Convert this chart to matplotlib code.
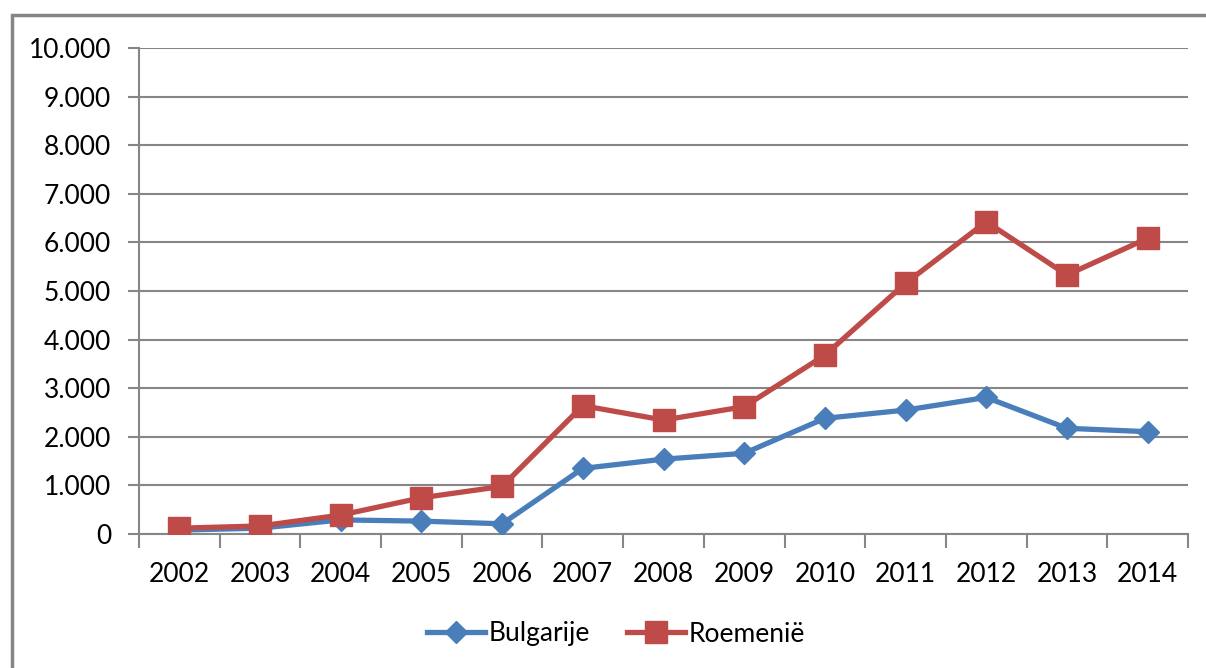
import matplotlib
matplotlib.use("Agg")
import matplotlib.pyplot as plt
import matplotlib.patches as patches
from matplotlib.ticker import FuncFormatter, FixedLocator

# === Data ===
years = ["2002", "2003", "2004", "2005", "2006", "2007", "2008",
         "2009", "2010", "2011", "2012", "2013", "2014"]
bulgarije = [80, 120, 290, 265, 210, 1350, 1540, 1660, 2380, 2550, 2810, 2175, 2105]
roemenie = [120, 165, 390, 745, 980, 2640, 2345, 2620, 3680, 5160, 6425, 5330, 6085]

GRID = "#868686"
BLUE = "#4A7EBB"
RED = "#BE4B48"

plt.rcParams["font.family"] = ["Lato", "DejaVu Sans"]

fig = plt.figure(figsize=(12.06, 6.68), dpi=100)
ax = fig.add_axes([139/1206, 1 - 534/668, (1188 - 139)/1206, (534 - 48)/668])

# outer chart frame (runs off the right and bottom of the picture)
fig.patches.append(patches.Rectangle((12/1206, -0.05), 1.1, 1 - 15/668 + 0.05,
                                     transform=fig.transFigure, fill=False,
                                     edgecolor=GRID, linewidth=2.5))

x = list(range(len(years)))
ax.plot(x, bulgarije, color=BLUE, linewidth=3.8, marker="D", markersize=11,
        markeredgecolor=BLUE, label="Bulgarije", zorder=3)
ax.plot(x, roemenie, color=RED, linewidth=3.8, marker="s", markersize=16,
        markeredgecolor=RED, label="Roemenië", zorder=4)

ax.set_ylim(0, 10000)
ax.set_xlim(-0.5, len(years) - 0.5)
ax.set_yticks(range(0, 10001, 1000))
ax.yaxis.set_major_formatter(FuncFormatter(lambda v, p: f"{int(v):,}".replace(",", ".")))
ax.grid(axis="y", color=GRID, linewidth=1.5)
ax.set_axisbelow(True)

# category axis: ticks between categories, labels at centres
ax.xaxis.set_major_locator(FixedLocator([i - 0.5 for i in range(len(years) + 1)]))
ax.xaxis.set_minor_locator(FixedLocator(x))
ax.set_xticklabels([])
ax.set_xticklabels(years, minor=True)
ax.tick_params(axis="x", which="major", length=10, width=1.5, color=GRID)
ax.tick_params(axis="x", which="minor", length=0, pad=20, labelsize=19)
ax.tick_params(axis="y", length=8, width=1.5, color=GRID, pad=12, labelsize=19)

for s in ["top", "right"]:
    ax.spines[s].set_visible(False)
for s in ["left", "bottom"]:
    ax.spines[s].set_color(GRID)
    ax.spines[s].set_linewidth(1.5)

leg = fig.legend(loc="center", bbox_to_anchor=(616/1206, 1 - 634/668), ncol=2,
                 frameon=False, fontsize=19, handlelength=2.2, handletextpad=0.15,
                 columnspacing=1.4)

fig.savefig("out.png", dpi=100)
